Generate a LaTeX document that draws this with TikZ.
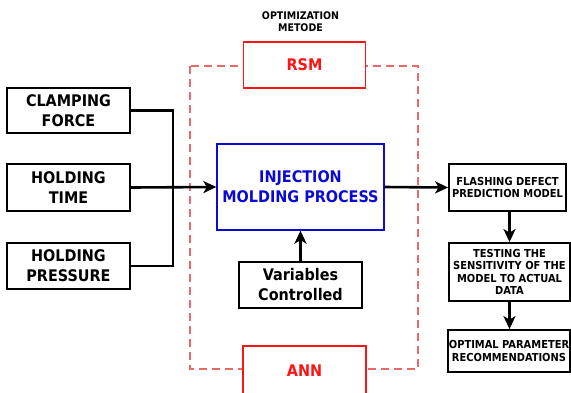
\documentclass[tikz,border=0pt]{standalone}
\usepackage{fontspec}
\setmainfont{DejaVu Sans Condensed}
\usetikzlibrary{arrows.meta}
\definecolor{boxred}{RGB}{255,20,20}
\definecolor{dashred}{RGB}{232,105,105}
\definecolor{injblue}{RGB}{10,10,210}
\tikzset{
  x=1pt, y=-1pt,
  bigtxt/.style={font=\fontsize{16}{20}\selectfont\bfseries, align=center},
  smalltxt/.style={font=\fontsize{11}{12.3}\selectfont\bfseries, align=center},
  blackbox/.style={draw=black, line width=1.8pt, fill=white, inner sep=0pt},
  redbox/.style={draw=boxred, line width=1.4pt, fill=white, inner sep=0pt, text=boxred},
  bluebox/.style={draw=injblue, line width=1.3pt, fill=white, inner sep=0pt, text=injblue},
  conn/.style={line width=2.6pt, black},
  arr/.style={conn, -{Stealth[length=13pt,width=12pt,inset=3.5pt]}},
}
\begin{document}
\begin{tikzpicture}
\useasboundingbox (0,0) rectangle (571,392);
% dashed optimization frame
\draw[dashred, line width=1.3pt, dash pattern=on 8pt off 5pt] (190,66) rectangle (418,369);
% title
\node[smalltxt, font=\fontsize{10.5}{12}\selectfont\bfseries] (title) at (300.5,22) {OPTIMIZATION\\METODE};
% optimization method boxes
\node[redbox, bigtxt, minimum width=122pt, minimum height=46pt] (rsm) at (304.5,65) {RSM};
\node[redbox, bigtxt, minimum width=123pt, minimum height=50pt] (ann) at (304.5,371) {ANN};
% inputs
\node[blackbox, bigtxt, minimum width=123pt, minimum height=45pt] (clamp) at (68.5,110.5) {CLAMPING\\FORCE};
\node[blackbox, bigtxt, minimum width=123pt, minimum height=47pt] (htime) at (68.5,187.5) {HOLDING\\TIME};
\node[blackbox, bigtxt, minimum width=123pt, minimum height=46pt] (hpress) at (68.5,266) {HOLDING\\PRESSURE};
% process
\node[bluebox, bigtxt, minimum width=167pt, minimum height=86pt] (inj) at (300.5,187) {INJECTION\\MOLDING PROCESS};
\node[blackbox, bigtxt, minimum width=123pt, minimum height=46pt] (var) at (300.5,285) {Variables\\Controlled};
% outputs
\node[blackbox, smalltxt, minimum width=117pt, minimum height=47pt] (flash) at (507.5,187.5) {FLASHING DEFECT\\PREDICTION MODEL};
\node[blackbox, smalltxt, minimum width=121pt, minimum height=58pt] (test) at (509.5,272) {TESTING THE\\SENSITIVITY OF THE\\MODEL TO ACTUAL\\DATA};
\node[blackbox, smalltxt, minimum width=122pt, minimum height=42pt] (opt) at (509,351) {OPTIMAL PARAMETER\\RECOMMENDATIONS};
% bus
\coordinate (busT) at (173,110.5);
\coordinate (busB) at (173,266);
\draw[conn, line join=miter] (clamp.east) -- (busT) -- (busB) -- (hpress.east);
\draw[arr] (htime.east) -- (inj.west);
\draw[arr] (var.north) -- (inj.south);
\draw[arr] (inj.east) -- (flash.west);
\draw[arr] (flash.south -| test.north) -- (test.north);
\draw[arr] (test.south) -- (test.south |- opt.north);
\end{tikzpicture}
\end{document}
